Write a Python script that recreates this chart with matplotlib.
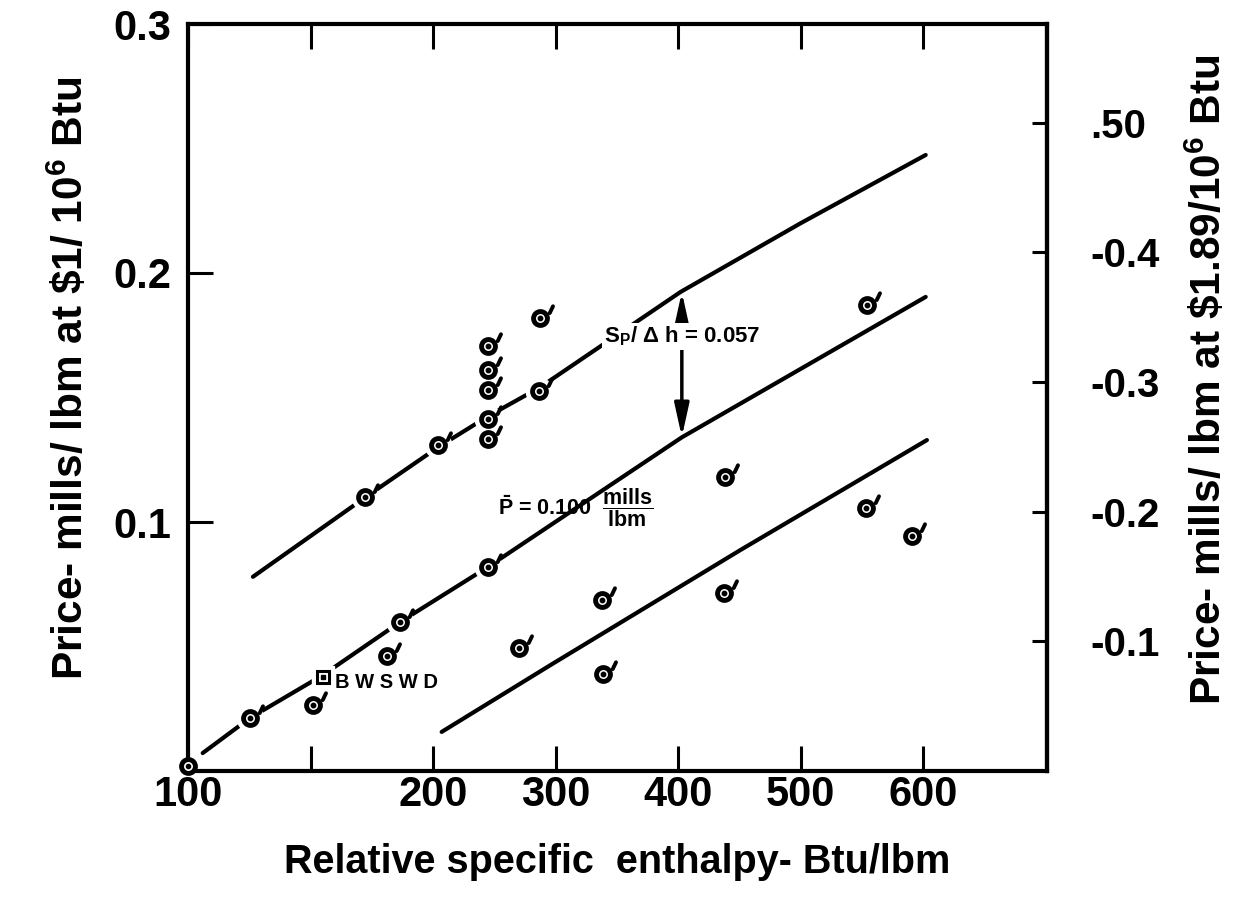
import matplotlib
matplotlib.use('Agg')
import matplotlib.pyplot as plt
from matplotlib.path import Path
from matplotlib.markers import MarkerStyle

plt.rcParams['font.family'] = ['Liberation Sans', 'DejaVu Sans']
plt.rcParams['font.weight'] = 'bold'
plt.rcParams['mathtext.fontset'] = 'custom'
plt.rcParams['mathtext.rm'] = 'Liberation Sans:bold'
plt.rcParams['mathtext.it'] = 'Liberation Sans:bold'
plt.rcParams['mathtext.bf'] = 'Liberation Sans:bold'

# data (x = relative specific enthalpy, y = price mills/lbm)
pts_x = [50.6, 102, 162, 173, 144.5, 204, 245, 245, 245, 245, 245, 245,
         286.5, 287, 270, 338, 339, 438, 437.6, 554, 553, 591]
pts_y = [0.0213, 0.0265, 0.0462, 0.0598, 0.110, 0.131, 0.082, 0.1333, 0.1414,
         0.1530, 0.1610, 0.1707, 0.1526, 0.1819, 0.0494, 0.0687, 0.039,
         0.1181, 0.0715, 0.187, 0.1056, 0.0944]
origin_x, origin_y = [0], [0.002]
bwswd_x, bwswd_y = [110], [0.0378]

upper_x = [53, 145, 204, 245, 287, 402, 500, 602]
upper_y = [0.078, 0.110, 0.130, 0.1425, 0.1540, 0.1924, 0.2200, 0.2474]
mid_x = [12, 50.6, 110, 173, 245, 403, 500, 602]
mid_y = [0.0072, 0.0213, 0.0385, 0.0598, 0.082, 0.134, 0.1615, 0.1904]
low_x = [207, 296, 451, 603]
low_y = [0.0157, 0.0426, 0.0888, 0.1329]

xticks = [0, 100, 200, 300, 400, 500, 600]
xlabels = ['100', '', '200', '300', '400', '500', '600']
yticks = [0.1, 0.2, 0.3]
ylabels = ['0.1', '0.2', '0.3']
rticks = [0.1, 0.2, 0.3, 0.4, 0.5]
rlabels = ['-0.1', '-0.2', '-0.3', '-0.4', '.50']
k = 1.92  # right axis scale

fig = plt.figure(figsize=(12.34, 9.08), dpi=100)
ax = fig.add_axes([188/1234, 1-771/908, 859/1234, 747/908])
ax.set_xlim(0, 701)
ax.set_ylim(0, 0.3)

for sp in ax.spines.values():
    sp.set_linewidth(3)

lw = 3.0
ax.plot(upper_x, upper_y, color='black', lw=lw, solid_capstyle='round')
ax.plot(mid_x, mid_y, color='black', lw=lw, solid_capstyle='round')
ax.plot(low_x, low_y, color='black', lw=lw, solid_capstyle='round')

# white halo so lines break around the markers
ax.plot(pts_x, pts_y, 'o', ms=19, color='white', zorder=3)
ax.plot(bwswd_x, bwswd_y, 's', ms=16, color='white', zorder=3)

ax.plot(pts_x, pts_y, 'o', ms=10, mfc='white', mec='black', mew=3.5, zorder=4)
ax.plot(pts_x, pts_y, 'o', ms=3.2, color='black', zorder=5)
prime = MarkerStyle(Path([(6.8, 4.0), (9.2, 9.0)], [Path.MOVETO, Path.LINETO]),
                    capstyle='round')
ax.plot(pts_x, pts_y, ls='none', marker=prime, ms=18, mec='black', mew=2.8, zorder=5)

ax.plot(origin_x, origin_y, 'o', ms=10, mfc='white', mec='black', mew=3.5,
        zorder=6, clip_on=False)
ax.plot(origin_x, origin_y, 'o', ms=3, color='black', zorder=7, clip_on=False)

ax.plot(bwswd_x, bwswd_y, 's', ms=9, mfc='white', mec='black', mew=2.2, zorder=4)
ax.plot(bwswd_x, bwswd_y, 's', ms=2.8, color='black', zorder=5)
ax.text(120, 0.0357, 'B W S W D', fontsize=14.5, ha='left', va='center')

ax.annotate('', xy=(403, 0.1924), xytext=(403, 0.1341),
            arrowprops=dict(arrowstyle='<|-|>,head_length=1.0,head_width=0.22',
                            lw=2.5, color='black', mutation_scale=20,
                            shrinkA=0, shrinkB=0))
ax.text(403, 0.1745, r'S$_{\mathrm{P}}$/ Δ h = 0.057', fontsize=16,
        ha='center', va='center',
        bbox=dict(fc='white', ec='none', pad=1.5), zorder=6)
ax.text(253, 0.1056, r'$\bar{\mathrm{P}}$ = 0.100  $\dfrac{\mathrm{mills}}{\mathrm{lbm}}$',
        fontsize=15.5, ha='left', va='center')

ax.set_xticks(xticks)
ax.set_xticklabels(xlabels)
ax.set_yticks(yticks)
ax.set_yticklabels(ylabels)
ax.tick_params(axis='x', which='both', direction='in', top=True, length=18,
               width=2.2, labelsize=30, pad=3)
ax.tick_params(axis='y', which='both', direction='in', right=False, length=18,
               width=2.2, labelsize=30, pad=12)

sec = ax.secondary_yaxis('right', functions=(lambda y: y * k, lambda y: y / k))
sec.set_yticks(rticks)
sec.set_yticklabels(rlabels)
sec.spines['right'].set_linewidth(3)
sec.tick_params(direction='in', length=11, width=2.2, labelsize=29, pad=31)

fig.text(617/1234, 1-862/908, 'Relative specific  enthalpy- Btu/lbm',
         fontsize=28.5, ha='center', va='center')
fig.text(70/1234, 1-378/908, r'Price- mills/ lbm at \$1/ 10$^{6}$ Btu',
         fontsize=30.5, ha='center', va='center', rotation=90)
fig.text(1208/1234, 1-380/908, r'Price- mills/ lbm at \$1.89/10$^{6}$ Btu',
         fontsize=30.5, ha='center', va='center', rotation=90)

fig.savefig('out.png', dpi=100)
